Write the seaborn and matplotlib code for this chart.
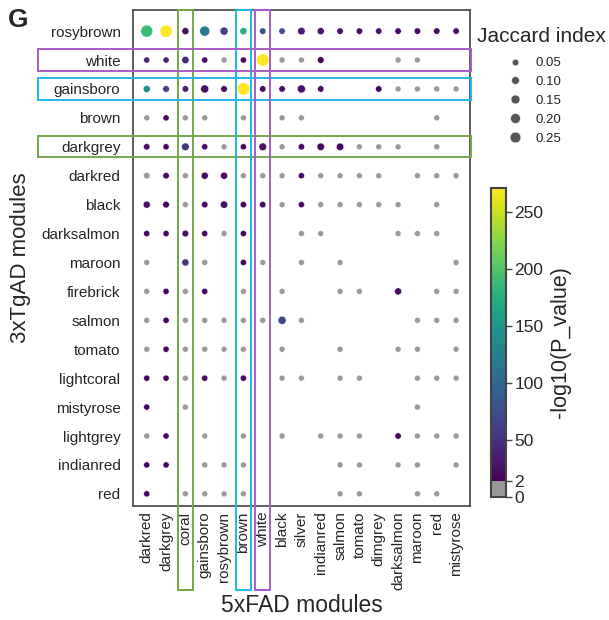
import numpy as np
import pandas as pd
import matplotlib
matplotlib.use('Agg')
import matplotlib.pyplot as plt
from matplotlib.colors import ListedColormap, Normalize
from matplotlib.lines import Line2D
from matplotlib.patches import Rectangle
import seaborn as sns

sns.set_style('white')
plt.rcParams['font.family'] = ['Liberation Sans', 'DejaVu Sans']

# 3xTgAD modules (rows) and 5xFAD modules (columns)
rows = ['rosybrown', 'white', 'gainsboro', 'brown', 'darkgrey', 'darkred', 'black',
        'darksalmon', 'maroon', 'firebrick', 'salmon', 'tomato', 'lightcoral',
        'mistyrose', 'lightgrey', 'indianred', 'red']
cols = ['darkred', 'darkgrey', 'coral', 'gainsboro', 'rosybrown', 'brown', 'white',
        'black', 'silver', 'indianred', 'salmon', 'tomato', 'dimgrey', 'darksalmon',
        'maroon', 'red', 'mistyrose']

n = np.nan
# Jaccard index (nan = no overlap)
jaccard = [
    [0.41, 0.42, 0.10, 0.27, 0.15, 0.10, 0.07, 0.07, 0.12, 0.10, 0.07, 0.07, 0.07, 0.07, 0.07, 0.07, 0.07],
    [0.06, 0.06, 0.11, 0.06, 0.05, 0.06, 0.45, 0.05, 0.05, 0.08, n, n, n, 0.05, 0.05, n, n],
    [0.10, 0.08, 0.07, 0.15, 0.08, 0.46, 0.07, 0.07, 0.15, 0.07, n, n, 0.07, 0.05, 0.05, 0.05, 0.05],
    [0.05, 0.06, 0.05, 0.05, n, 0.05, n, 0.05, 0.05, n, n, n, n, n, n, 0.05, n],
    [0.07, 0.06, 0.13, 0.06, 0.05, 0.06, 0.13, 0.05, 0.07, 0.12, 0.12, 0.05, 0.05, 0.05, n, 0.05, n],
    [0.07, 0.07, 0.05, 0.10, 0.10, 0.05, 0.05, 0.05, 0.06, 0.05, 0.05, 0.05, 0.05, n, 0.05, 0.05, 0.05],
    [0.10, 0.08, 0.05, 0.07, 0.11, 0.07, 0.07, 0.05, 0.06, 0.05, 0.05, 0.05, 0.05, 0.05, n, 0.05, n],
    [0.06, 0.06, 0.08, 0.06, 0.05, 0.06, n, n, 0.05, 0.05, n, n, n, 0.05, 0.05, 0.05, n],
    [0.05, n, 0.10, 0.05, n, 0.06, 0.05, n, 0.05, n, 0.05, n, n, n, n, n, 0.05],
    [0.05, 0.06, 0.05, 0.06, n, 0.05, n, 0.05, n, n, 0.05, 0.05, n, 0.10, n, 0.05, 0.05],
    [0.05, 0.06, 0.05, 0.05, 0.05, 0.05, 0.05, 0.15, 0.05, n, n, n, n, n, 0.05, 0.05, 0.05],
    [0.05, 0.06, 0.05, 0.05, 0.05, 0.05, n, 0.05, n, n, 0.05, n, n, 0.05, 0.05, n, 0.05],
    [0.06, 0.06, 0.05, 0.06, 0.05, 0.06, n, 0.05, 0.05, n, 0.05, 0.05, n, n, 0.05, 0.05, 0.05],
    [0.06, n, 0.05, n, n, n, n, n, n, n, n, n, n, n, 0.05, n, n],
    [0.05, 0.06, n, 0.05, n, 0.05, n, 0.05, n, 0.05, 0.05, 0.05, n, 0.07, 0.05, 0.05, 0.05],
    [0.06, 0.06, n, 0.05, 0.05, 0.05, n, n, n, n, 0.05, 0.05, n, 0.05, 0.05, n, 0.05],
    [0.06, n, 0.05, 0.05, 0.05, 0.05, n, n, n, n, 0.05, 0.05, n, n, 0.05, 0.05, n],
]
# -log10(P_value); values below 2 are drawn grey
logp = [
    [185, 270, 14, 110, 52, 170, 72, 66, 22, 18, 14, 12, 16, 10, 10, 10, 12],
    [30, 28, 30, 12, 1, 12, 270, 1, 1, 8, n, n, n, 1, 1, n, n],
    [138, 55, 25, 14, 12, 271, 12, 12, 16, 12, n, n, 8, 1, 1, 1, 1],
    [1, 8, 1, 1, n, 1, n, 1, 1, n, n, n, n, n, n, 1, n],
    [12, 10, 45, 12, 1, 10, 16, 1, 12, 10, 10, 1, 1, 1, n, 1, n],
    [1, 10, 1, 10, 10, 1, 1, 1, 8, 1, 1, 1, 1, n, 1, 1, 1],
    [12, 10, 1, 10, 12, 10, 10, 1, 8, 1, 1, 1, 1, 1, n, 1, n],
    [8, 8, 10, 8, 1, 8, n, n, 1, 1, n, n, n, 1, 1, 1, n],
    [1, n, 42, 1, n, 8, 1, n, 1, n, 1, n, n, n, n, n, 1],
    [1, 8, 1, 8, n, 1, n, 1, n, n, 1, 1, n, 12, n, 1, 1],
    [1, 8, 1, 1, 1, 1, 1, 58, 1, n, n, n, n, n, 1, 1, 1],
    [1, 8, 1, 1, 1, 1, n, 1, n, n, 1, n, n, 1, 1, n, 1],
    [8, 8, 1, 8, 1, 8, n, 1, 1, n, 1, 1, n, n, 1, 1, 1],
    [8, n, 1, n, n, n, n, n, n, n, n, n, n, n, 1, n, n],
    [1, 8, n, 1, n, 1, n, 1, n, 1, 1, 1, n, 10, 1, 1, 1],
    [8, 8, n, 1, 1, 1, n, n, n, n, 1, 1, n, 1, 1, n, 1],
    [8, n, 1, 1, 1, 1, n, n, n, n, 1, 1, n, n, 1, 1, n],
]

# highlighted module pairs: (row, column, colour)
highlights = [('darkgrey', 'coral', '#76a64a'),
              ('gainsboro', 'brown', '#1fb8ea'),
              ('white', 'white', '#a85cc4')]

records = []
for i, r in enumerate(rows):
    for j, c in enumerate(cols):
        if not np.isnan(jaccard[i][j]):
            records.append({'row': r, 'col': c, 'jaccard': jaccard[i][j], 'logp': logp[i][j]})
df = pd.DataFrame(records)
df['xi'] = pd.Categorical(df['col'], categories=cols).codes
df['yi'] = pd.Categorical(df['row'], categories=rows).codes

size_range = (18, 80)
size_norm = (0.05, 0.45)
vmax = 271

fig = plt.figure(figsize=(6.09, 6.2), dpi=100)
ax = fig.add_axes([133 / 609, 1 - 506 / 620, 337 / 609, 496 / 620])

ns = df[df['logp'] < 2]
sig = df[df['logp'] >= 2]
sns.scatterplot(data=ns, x='xi', y='yi', size='jaccard', sizes=size_range, size_norm=size_norm,
                color='#9a9a9a', edgecolor='white', linewidth=0.3, legend=False, ax=ax, zorder=3)
sns.scatterplot(data=sig, x='xi', y='yi', hue='logp', palette='viridis', hue_norm=(2, vmax),
                size='jaccard', sizes=size_range, size_norm=size_norm,
                edgecolor='white', linewidth=0.3, legend=False, ax=ax, zorder=3)

ax.set_xlim(-0.71, 16.72)
ax.set_ylim(16.42, -0.73)
ax.set_xticks(range(len(cols)))
ax.set_xticklabels(cols, rotation=90, fontsize=11)
ax.set_yticks(range(len(rows)))
ax.set_yticklabels(rows, fontsize=11)
ax.tick_params(axis='both', length=0)
ax.tick_params(axis='y', pad=9)
ax.tick_params(axis='x', pad=4)
for sp in ax.spines.values():
    sp.set_color('#444444')
    sp.set_linewidth(1.2)
ax.set_xlabel('5xFAD modules', fontsize=16.5, labelpad=3)
ax.set_ylabel('3xTgAD modules', fontsize=16, labelpad=8)

for r, c, colr in highlights:
    yi = rows.index(r)
    xi = cols.index(c)
    ax.add_patch(Rectangle((-5.62, yi - 0.37), 22.37, 0.74, fill=False, edgecolor=colr,
                           linewidth=1.4, clip_on=False, zorder=4))
    ax.add_patch(Rectangle((xi - 0.40, -0.73), 0.80, 20.05, fill=False, edgecolor=colr,
                           linewidth=1.4, clip_on=False, zorder=4))

# size legend
leg_vals = [0.05, 0.10, 0.15, 0.20, 0.25]
handles = []
for v in leg_vals:
    s = size_range[0] + (v - size_norm[0]) / (size_norm[1] - size_norm[0]) * (size_range[1] - size_range[0])
    handles.append(Line2D([], [], marker='o', linestyle='none', markersize=np.sqrt(s) * 1.1,
                          markerfacecolor='#555555', markeredgecolor='white', markeredgewidth=0.3))
fig.text(477 / 609, 1 - 27 / 620, 'Jaccard index', fontsize=15, ha='left', va='top')
fig.legend(handles, [f'{v:.2f}' for v in leg_vals],
           loc='upper left', bbox_to_anchor=(508 / 609, 1 - 57 / 620), frameon=False,
           fontsize=9.5, labelspacing=0.5, handlelength=1.0, handletextpad=1.1,
           borderpad=0, borderaxespad=0)

# colour bar: grey block for non-significant, viridis above
grey_top = 14
frac = grey_top / vmax
ncol = 512
vir = plt.get_cmap('viridis')(np.linspace(0, 1, int(ncol * (1 - frac))))
grey = np.tile(np.array([[0.6, 0.6, 0.6, 1.0]]), (int(ncol * frac), 1))
cmap = ListedColormap(np.vstack([grey, vir]))
cax = fig.add_axes([491 / 609, 1 - 497 / 620, 15 / 609, 309 / 620])
sm = plt.cm.ScalarMappable(norm=Normalize(0, vmax), cmap=cmap)
cb = fig.colorbar(sm, cax=cax)
cb.set_ticks([0, grey_top, 50, 100, 150, 200, 250])
cb.set_ticklabels(['0', '2', '50', '100', '150', '200', '250'])
cb.ax.tick_params(labelsize=12.5, length=4, width=1, color='#444444', pad=2)
cb.outline.set_edgecolor('#444444')
cb.outline.set_linewidth(1.5)
cb.set_label('-log10(P_value)', fontsize=15.5, labelpad=5)

fig.text(8 / 609, 1 - 8 / 620, 'G', fontsize=19, fontweight='bold', va='top', ha='left')

plt.savefig('out.png', dpi=100)
plt.close()
